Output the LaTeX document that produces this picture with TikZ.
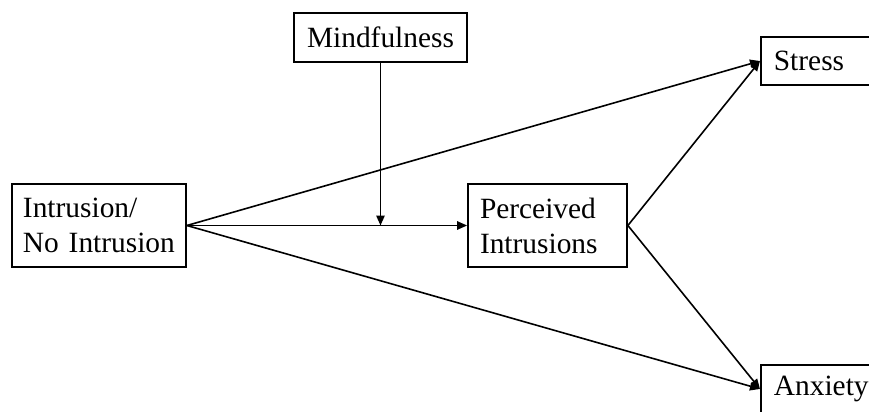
\documentclass[tikz,border=0pt]{standalone}
\usepackage{fontspec}
\setmainfont{Liberation Serif}
\usetikzlibrary{arrows.meta}
\tikzset{varbox/.style={draw,line width=0.9pt,fill=white,align=left,font=\fontsize{14.7}{17.5}\selectfont,inner xsep=5.5pt,inner ysep=0pt},link/.style={draw,line width=0.8pt,-{Triangle[length=5pt,width=4.2pt]}}}
\begin{document}
\begin{tikzpicture}[x=0.5pt,y=-0.5pt]
\useasboundingbox (0,0) rectangle (869,412);
\clip (0,0) rectangle (869,412);
\node[varbox,minimum width=87pt,minimum height=41.5pt,text width=76pt] (intr) at (99,225.5) {Intrusion/\\No Intrusion};
\node[varbox,minimum width=86.5pt,minimum height=24.5pt,align=center] (mind) at (380.5,37.5) {Mindfulness};
\node[varbox,minimum width=79.5pt,minimum height=41.5pt,inner xsep=6pt,text width=67.5pt] (perc) at (547.5,225.5) {Perceived\\Intrusions};
\node[varbox,anchor=west,minimum width=75pt,minimum height=24pt,inner xsep=6.5pt,text width=62pt] (stress) at (760,61) {Stress};
\node[varbox,anchor=west,minimum width=75pt,minimum height=24pt,inner xsep=6.5pt,text width=62pt] (anx) at (760,389) {Anxiety};
\coordinate (join) at (mind.south |- intr.east);
\draw[link] (intr.east) -- (perc.west);
\draw[link] (mind.south) -- (join);
\draw[link] (intr.east) -- (stress.west);
\draw[link] (intr.east) -- (anx.west);
\draw[link] (perc.east) -- (stress.west);
\draw[link] (perc.east) -- (anx.west);
\end{tikzpicture}
\end{document}
